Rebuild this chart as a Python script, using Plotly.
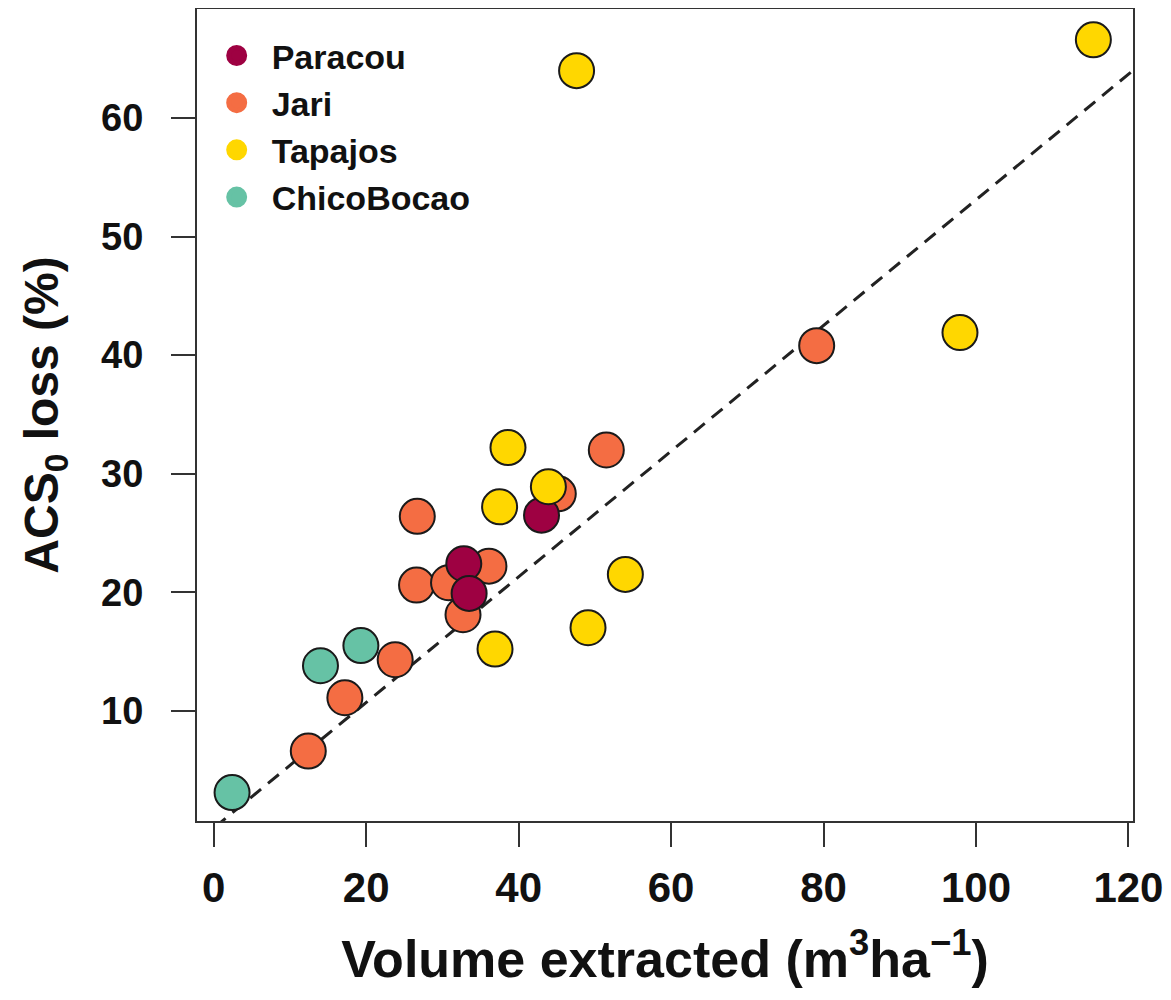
import plotly.graph_objects as go

# ---- data ----
sites = ["Paracou", "Jari", "Tapajos", "ChicoBocao"]
site_colors = ["#9E0142", "#F46D43", "#FFD700", "#66C2A5"]

paracou_x = [32.8, 33.5, 43.0]
paracou_y = [22.4, 19.9, 26.5]

jari_x = [12.4, 17.2, 23.8, 26.6, 26.7, 30.8, 36.1, 32.7, 51.5, 45.2, 79.1]
jari_y = [6.6, 11.1, 14.3, 20.6, 26.4, 20.8, 22.2, 18.1, 32.0, 28.3, 40.8]

tapajos_x = [38.6, 37.5, 43.9, 54.0, 49.1, 36.9, 97.9, 115.4, 47.6]
tapajos_y = [32.2, 27.2, 28.9, 21.5, 17.0, 15.2, 41.9, 66.6, 64.0]

chico_x = [2.4, 14.0, 19.3]
chico_y = [3.1, 13.8, 15.5]

fit_slope = 0.53
fit_intercept = 0.1

x_range = [-2.2, 120.6]
y_range = [0.7, 69.2]
x_ticks = [0, 20, 40, 60, 80, 100, 120]
y_ticks = [10, 20, 30, 40, 50, 60]

FONT = "Liberation Sans, Arial, sans-serif"
INK = "#111111"

fig = go.Figure()

# regression line across the plotting region
lx = [x_range[0], x_range[1]]
ly = [fit_intercept + fit_slope * v for v in lx]
fig.add_trace(go.Scatter(x=lx, y=ly, mode="lines",
                         line=dict(color="#222222", width=3, dash="14px,9px"),
                         showlegend=False, hoverinfo="skip"))

series = {
    "ChicoBocao": (chico_x, chico_y),
    "Jari": (jari_x, jari_y),
    "Paracou": (paracou_x, paracou_y),
    "Tapajos": (tapajos_x, tapajos_y),
}
color_of = dict(zip(sites, site_colors))

for name in ["ChicoBocao", "Jari", "Paracou", "Tapajos"]:
    xs, ys = series[name]
    fig.add_trace(go.Scatter(x=xs, y=ys, mode="markers", name=name,
                             marker=dict(size=35, color=color_of[name],
                                         line=dict(color="#1a1a1a", width=2)),
                             showlegend=False))

# legend entries (no dark border, in legend order)
for name in sites:
    fig.add_trace(go.Scatter(x=[None], y=[None], mode="markers", name=f"<b>{name}</b>",
                             marker=dict(size=25, color=color_of[name],
                                         line=dict(color=color_of[name], width=6)),
                             showlegend=True))

axis_common = dict(showline=True, linecolor="#333333", linewidth=2, mirror=True,
                   ticks="outside", ticklen=24, tickwidth=2, tickcolor="#333333",
                   showgrid=False, zeroline=False)

fig.update_xaxes(range=x_range, tickvals=x_ticks, ticktext=[f"<b>{v}</b>" for v in x_ticks],
                 tickfont=dict(family=FONT, size=42, color=INK),
                 ticklabelstandoff=5,
                 title=dict(text="<b>Volume extracted (m<sup>3</sup>ha<sup>\u22121</sup>)</b>",
                            font=dict(family=FONT, size=52, color=INK), standoff=30),
                 **axis_common)
fig.update_yaxes(range=y_range, tickvals=y_ticks, ticktext=[f"<b>{v}</b>" for v in y_ticks],
                 tickfont=dict(family=FONT, size=38, color=INK),
                 ticklabelstandoff=20,
                 title=dict(text="<b>ACS<sub>0</sub> loss (%)</b>",
                            font=dict(family=FONT, size=48, color=INK), standoff=27),
                 **axis_common)

fig.update_layout(
    width=1163, height=992,
    margin=dict(l=189, r=38, t=1, b=179, autoexpand=False),
    paper_bgcolor="white", plot_bgcolor="white",
    showlegend=True,
    legend=dict(x=0.005, y=0.978, xanchor="left", yanchor="top",
                bgcolor="rgba(0,0,0,0)", borderwidth=0,
                font=dict(family=FONT, size=34, color=INK),
                itemsizing="trace", itemwidth=60, tracegroupgap=0),
    font=dict(family=FONT),
)

fig.write_html("out.html")
